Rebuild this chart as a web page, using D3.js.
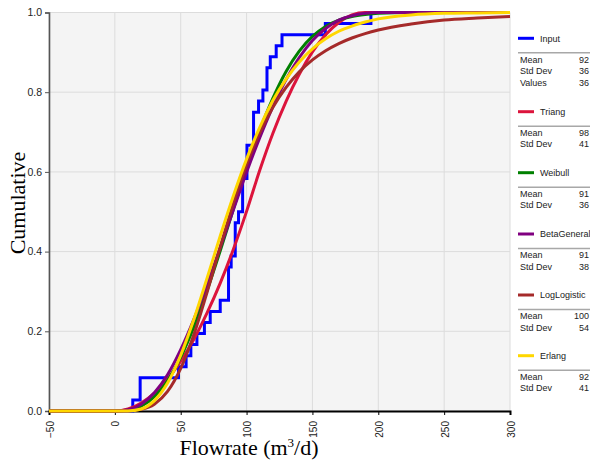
<!DOCTYPE html>
<html>
<head>
<meta charset="utf-8">
<script src="https://cdn.jsdelivr.net/npm/d3@7"></script>
<style>
  html, body { margin: 0; padding: 0; background: #ffffff; }
  svg { display: block; }
</style>
</head>
<body>
<svg id="chart" width="590" height="463"></svg>
<script>
// Observed flowrate samples (m3/d)
const inputValues = [13.6, 19.2, 19.2, 48.3, 54.1, 57.7, 62.3, 68, 72.4, 80,
  86.3, 86.3, 86.3, 88.3, 91.4, 91.4, 91.4, 93.9, 97, 97, 97,
  100.3, 100.3, 100.3, 105.3, 105.3, 105.3, 109.1, 112.4, 115.5, 115.5,
  118, 122.5, 126.9, 159.8, 194.4];

// Flowrate grid on which the fitted cumulative curves are tabulated
const xGrid = [-50, 0, 10, 20, 30, 40, 50, 60, 70, 80, 90, 100, 110, 120, 130,
  140, 150, 160, 170, 180, 190, 200, 225, 250, 275, 300];

const triangCdf = [0, 0, 0.005, 0.020, 0.045, 0.080, 0.125, 0.180, 0.246, 0.321,
  0.406, 0.501, 0.604, 0.697, 0.777, 0.845, 0.901, 0.944, 0.975, 0.994, 1, 1, 1, 1, 1, 1];
const weibullCdf = [0, 0, 0.002, 0.012, 0.036, 0.076, 0.135, 0.211, 0.302, 0.402,
  0.507, 0.610, 0.704, 0.785, 0.852, 0.903, 0.940, 0.965, 0.981, 0.990, 0.995, 0.998, 1, 1, 1, 1];
const betaGeneralCdf = [0, 0, 0.003, 0.017, 0.046, 0.091, 0.154, 0.230, 0.317, 0.410,
  0.505, 0.599, 0.686, 0.764, 0.832, 0.887, 0.930, 0.960, 0.981, 0.992, 0.998, 1, 1, 1, 1, 1];
const logLogisticCdf = [0, 0, 0.0003, 0.004, 0.017, 0.049, 0.107, 0.192, 0.298, 0.412,
  0.521, 0.618, 0.698, 0.762, 0.812, 0.851, 0.881, 0.904, 0.922, 0.936, 0.947, 0.956,
  0.971, 0.981, 0.986, 0.990];
const erlangCdf = [0, 0, 0.0003, 0.005, 0.026, 0.070, 0.140, 0.230, 0.333, 0.439,
  0.540, 0.632, 0.712, 0.779, 0.833, 0.876, 0.909, 0.934, 0.953, 0.966, 0.976, 0.984,
  0.994, 0.998, 0.999, 1];

const xTicks = [-50, 0, 50, 100, 150, 200, 250, 300];
const yTicks = [0, 0.2, 0.4, 0.6, 0.8, 1.0];

const seriesNames = ["Input", "Triang", "Weibull", "BetaGeneral", "LogLogistic", "Erlang"];
const seriesColors = ["#0000ff", "#dc143c", "#008000", "#800080", "#a52a2a", "#ffd700"];
const statLabels = [["Mean", "Std Dev", "Values"], ["Mean", "Std Dev"], ["Mean", "Std Dev"],
  ["Mean", "Std Dev"], ["Mean", "Std Dev"], ["Mean", "Std Dev"]];
const statValues = [["92", "36", "36"], ["98", "41"], ["91", "36"], ["91", "38"],
  ["100", "54"], ["92", "41"]];

const svg = d3.select("#chart");
const plot = { left: 49, right: 510, top: 12.5, bottom: 411 };

const x = d3.scaleLinear().domain([-50, 300]).range([plot.left, plot.right]);
const y = d3.scaleLinear().domain([0, 1]).range([plot.bottom, plot.top]);

// plot background
svg.append("rect")
  .attr("x", plot.left).attr("y", plot.top)
  .attr("width", plot.right - plot.left).attr("height", plot.bottom - plot.top)
  .attr("fill", "#f4f4f4");

// grid
const grid = svg.append("g").attr("stroke", "#dcdcdc").attr("stroke-width", 1);
grid.selectAll(".gx").data(xTicks).join("line")
  .attr("x1", d => x(d)).attr("x2", d => x(d))
  .attr("y1", plot.top).attr("y2", plot.bottom);
grid.selectAll(".gy").data(yTicks).join("line")
  .attr("x1", plot.left).attr("x2", plot.right)
  .attr("y1", d => y(d)).attr("y2", d => y(d));

// axes
const yAxis = svg.append("g")
  .attr("transform", `translate(${plot.left},0)`)
  .call(d3.axisLeft(y).tickValues(yTicks).tickFormat(d3.format(".1f")).tickSize(4).tickPadding(3));
yAxis.select(".domain").attr("stroke", "#555").attr("stroke-width", 1.6);
yAxis.selectAll(".tick line").attr("stroke", "#555");
yAxis.selectAll("text").attr("font-family", "Liberation Sans, Arial, sans-serif")
  .attr("font-size", 10.5).attr("fill", "#222");

const xAxis = svg.append("g")
  .attr("transform", `translate(0,${plot.bottom})`)
  .call(d3.axisBottom(x).tickValues(xTicks).tickFormat(d3.format("d")).tickSize(4));
xAxis.select(".domain").attr("stroke", "#000").attr("stroke-width", 2);
xAxis.selectAll(".tick line").attr("stroke", "#000");
xAxis.selectAll("text")
  .attr("font-family", "Liberation Sans, Arial, sans-serif")
  .attr("font-size", 10).attr("fill", "#222")
  .attr("text-anchor", "end")
  .attr("dy", null)
  .attr("y", 0).attr("x", 0)
  .attr("transform", "translate(4,10) rotate(-90)");

// axis titles
svg.append("text")
  .attr("transform", "translate(25,203) rotate(-90)")
  .attr("text-anchor", "middle")
  .attr("font-family", "Liberation Serif, Times New Roman, serif")
  .attr("font-size", 22).attr("fill", "#000")
  .text("Cumulative");

const xt = svg.append("text")
  .attr("x", 249).attr("y", 455)
  .attr("text-anchor", "middle")
  .attr("font-family", "Liberation Serif, Times New Roman, serif")
  .attr("font-size", 22).attr("fill", "#000");
xt.append("tspan").text("Flowrate (m");
xt.append("tspan").attr("font-size", 13).attr("dy", -8).text("3");
xt.append("tspan").attr("dy", 8).text("/d)");

// empirical cumulative step line of the input samples
const sorted = inputValues.slice().sort((a, b) => a - b);
const n = sorted.length;
const stepPts = [[-50, 0]];
sorted.forEach((v, i) => {
  if (i < n - 1 && sorted[i + 1] === v) return;
  stepPts.push([v, (i + 1) / n]);
});
stepPts.push([300, 1]);

const stepLine = d3.line().x(d => x(d[0])).y(d => y(d[1])).curve(d3.curveStepAfter);
const smoothLine = d3.line().x(d => x(d[0])).y(d => y(d[1])).curve(d3.curveMonotoneX);

const curves = [triangCdf, weibullCdf, betaGeneralCdf, logLogisticCdf, erlangCdf];

svg.append("path")
  .attr("d", stepLine(stepPts))
  .attr("fill", "none").attr("stroke", seriesColors[0]).attr("stroke-width", 3);

curves.forEach((cdf, i) => {
  svg.append("path")
    .attr("d", smoothLine(xGrid.map((v, j) => [v, cdf[j]])))
    .attr("fill", "none")
    .attr("stroke", seriesColors[i + 1])
    .attr("stroke-width", 3)
    .attr("stroke-linejoin", "round");
});

// legend
const legendY = [38.3, 111.7, 172.7, 234, 295, 355.7];
const lg = svg.append("g").attr("font-family", "Liberation Sans, Arial, sans-serif")
  .attr("font-size", 9).attr("fill", "#222");
seriesNames.forEach((name, i) => {
  const ly = legendY[i];
  lg.append("line").attr("x1", 518).attr("x2", 534).attr("y1", ly).attr("y2", ly)
    .attr("stroke", seriesColors[i]).attr("stroke-width", 3);
  lg.append("text").attr("x", 540).attr("y", ly + 3.2).text(name);
  lg.append("line").attr("x1", 518).attr("x2", 590).attr("y1", ly + 14.5).attr("y2", ly + 14.5)
    .attr("stroke", "#a8a8a8").attr("stroke-width", 1.5);
  statLabels[i].forEach((lab, k) => {
    const ry = ly + 21 + k * 11.5 + 3.2;
    lg.append("text").attr("x", 520).attr("y", ry).text(lab);
    lg.append("text").attr("x", 589).attr("y", ry).attr("text-anchor", "end").text(statValues[i][k]);
  });
});
</script>
</body>
</html>
